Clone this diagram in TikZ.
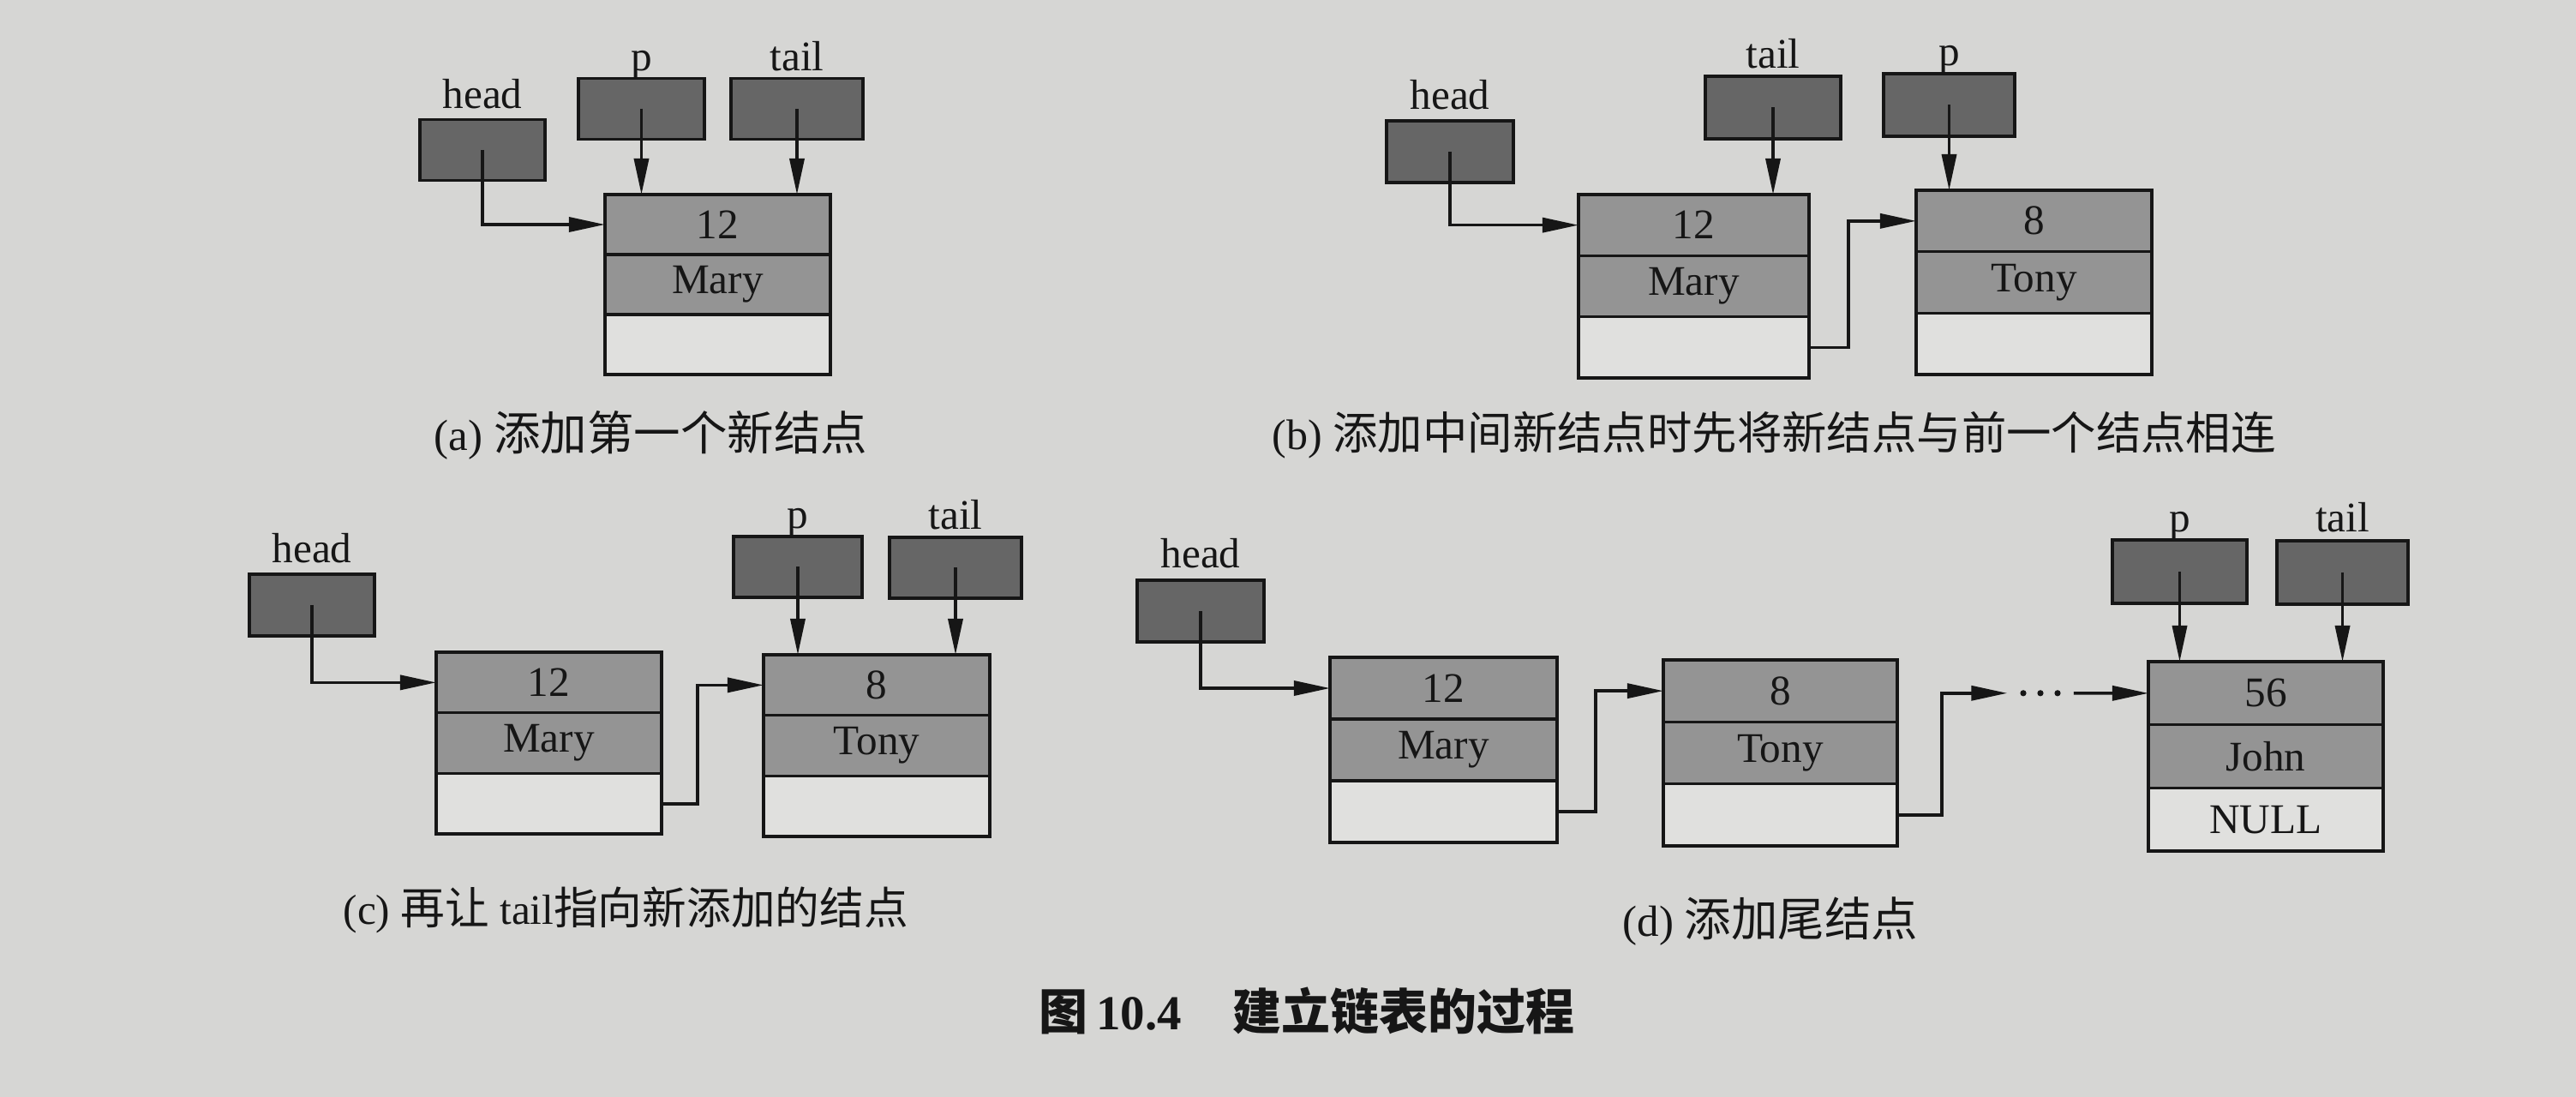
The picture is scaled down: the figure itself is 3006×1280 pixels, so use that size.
\documentclass[tikz,border=0pt]{standalone}
\usepackage{fontspec}
\setmainfont{Liberation Serif}
\newfontfamily\cjk{Noto Sans CJK SC}
\usetikzlibrary{arrows.meta}
\definecolor{bgcol}{RGB}{214,214,212}
\definecolor{ptrcol}{RGB}{102,102,102}
\definecolor{cellcol}{RGB}{148,148,148}
\definecolor{emptycol}{RGB}{224,224,222}
\definecolor{inkcol}{RGB}{22,22,22}
\newcommand\mklnode[8]{%
  \node[cell, minimum width=#4, minimum height=#5, anchor=north] (#1-1) at (#2,#3) {#6};
  \node[cell, minimum width=#4, minimum height=#5, anchor=north] (#1-2) at (#1-1.south) {#7};
  \node[cell, minimum width=#4, minimum height=#5, anchor=north, fill=emptycol] (#1-3) at (#1-2.south) {#8};
}
\newcommand\capfont{\fontsize{14.5}{18}\selectfont}
\newcommand\capcjk{\cjk\fontsize{15.5}{18}\selectfont}
\begin{document}
\begin{tikzpicture}[x=0.01cm, y=-0.01cm,
  every node/.style={text=inkcol},
  ptr/.style={draw=inkcol, fill=ptrcol, line width=1pt, minimum height=0.71cm, inner sep=0, outer sep=0},
  cell/.style={draw=inkcol, fill=cellcol, line width=1pt, inner sep=0, outer sep=0, font=\fontsize{14}{16}\selectfont},
  lab/.style={anchor=base, inner sep=0, font=\fontsize{14}{16}\selectfont},
  arr/.style={draw=inkcol, line width=1pt, -{Triangle[length=0.42cm, width=0.17cm]}},
  captext/.style={anchor=west, inner sep=0}
]
\fill[bgcol] (0,0) rectangle (3006,1280);
\useasboundingbox (0,0) rectangle (3006,1280);

% ---------- (a) ----------
\mklnode{a1}{837.5}{227}{2.63cm}{0.70cm}{12}{Mary}{}
\node[ptr, minimum width=1.46cm] (a-head) at (563,175) {};
\node[ptr, minimum width=1.47cm] (a-p) at (748.5,127) {};
\node[ptr, minimum width=1.54cm] (a-tail) at (930,127) {};
\node[lab] (a-headl) at (563,127) {head};
\node[lab] (a-pl) at (748.5,83) {p};
\node[lab] (a-taill) at (930,83) {tail};
\draw[arr] (a-head.center) |- (a1-1.west);
\draw[arr] (a-p.center) -- (a-p.center |- a1-1.north);
\draw[arr] (a-tail.center) -- (a-tail.center |- a1-1.north);
\node[captext] (capa) at (506,508) {\capfont (a) {\capcjk 添加第一个新结点}};

% ---------- (b) ----------
\mklnode{b1}{1976.5}{227}{2.69cm}{0.713cm}{12}{Mary}{}
\mklnode{b2}{2373.5}{222}{2.75cm}{0.717cm}{8}{Tony}{}
\node[ptr, minimum width=1.48cm, minimum height=0.72cm] (b-head) at (1692,177) {};
\node[ptr, minimum width=1.58cm, minimum height=0.73cm] (b-tail) at (2069,125.5) {};
\node[ptr, minimum width=1.53cm, minimum height=0.73cm] (b-p) at (2274.5,122.5) {};
\node[lab] (b-headl) at (1692,128) {head};
\node[lab] (b-taill) at (2069,80) {tail};
\node[lab] (b-pl) at (2274.5,77) {p};
\draw[arr] (b-head.center) |- (b1-1.west);
\draw[arr] (b-tail.center) -- (b-tail.center |- b1-1.north);
\draw[arr] (b-p.center) -- (b-p.center |- b2-1.north);
\draw[arr] (b1-3.east) -- ++(46,0) |- (b2-1.west);
\node[captext] (capb) at (1484,508) {\fontsize{14.2}{18}\selectfont (b) {\cjk\fontsize{14.9}{18}\selectfont 添加中间新结点时先将新结点与前一个结点相连}};

% ---------- (c) ----------
\mklnode{c1}{640.5}{761}{2.63cm}{0.707cm}{12}{Mary}{}
\mklnode{c2}{1023}{764}{2.64cm}{0.707cm}{8}{Tony}{}
\node[ptr, minimum width=1.46cm, minimum height=0.72cm] (c-head) at (364,706) {};
\node[ptr, minimum width=1.50cm] (c-p) at (931,661.5) {};
\node[ptr, minimum width=1.54cm] (c-tail) at (1115,662.5) {};
\node[lab] (c-headl) at (364,657) {head};
\node[lab] (c-pl) at (931,617) {p};
\node[lab] (c-taill) at (1115,618) {tail};
\draw[arr] (c-head.center) |- (c1-1.west);
\draw[arr] (c-p.center) -- (c-p.center |- c2-1.north);
\draw[arr] (c-tail.center) -- (c-tail.center |- c2-1.north);
\draw[arr] (c1-3.east) -- ++(42,0) |- (c2-1.west);
\node[captext] (capc) at (400,1062) {\fontsize{14}{18}\selectfont (c) {\cjk\fontsize{14.7}{18}\selectfont 再让} tail{\cjk\fontsize{14.7}{18}\selectfont 指向新添加的结点}};

% ---------- (d) ----------
\mklnode{d1}{1684.5}{767}{2.65cm}{0.72cm}{12}{Mary}{}
\mklnode{d2}{2077.5}{770}{2.73cm}{0.723cm}{8}{Tony}{}
\mklnode{d3}{2644}{772}{2.74cm}{0.737cm}{56}{John}{NULL}
\node[ptr, minimum width=1.48cm, minimum height=0.72cm] (d-head) at (1401,713) {};
\node[ptr, minimum width=1.57cm, minimum height=0.74cm] (d-p) at (2543.5,667) {};
\node[ptr, minimum width=1.53cm, minimum height=0.74cm] (d-tail) at (2733.5,668) {};
\node[lab] (d-headl) at (1401,663) {head};
\node[lab] (d-pl) at (2543.5,621) {p};
\node[lab] (d-taill) at (2733.5,621) {tail};
\node[inner sep=0, minimum width=0.76cm, minimum height=0.1cm] (dots) at (2381,808.8) {};
\fill[inkcol] (dots.center) ++(-20,0) circle[radius=0.036cm] ++(20,0) circle[radius=0.036cm] ++(20,0) circle[radius=0.036cm];
\draw[arr] (d-head.center) |- (d1-1.west);
\draw[arr] (d1-3.east) -- ++(45,0) |- (d2-1.west);
\draw[arr] (d2-3.east) -- ++(52,0) |- (dots.west);
\draw[arr] (dots.east) -- (d3-1.west);
\draw[arr] (d-p.center) -- (d-p.center |- d3-1.north);
\draw[arr] (d-tail.center) -- (d-tail.center |- d3-1.north);
\node[captext] (capd) at (1893,1075) {\capfont (d) {\capcjk 添加尾结点}};

% ---------- title ----------
\node[inner sep=0] (title) at (1525,1180) {\fontsize{16.2}{20}\selectfont{\cjk\bfseries 图}\hspace{0.1cm}{\bfseries 10.4}\hspace{0.6cm}{\cjk\bfseries 建立链表的过程}};
\end{tikzpicture}
\end{document}
